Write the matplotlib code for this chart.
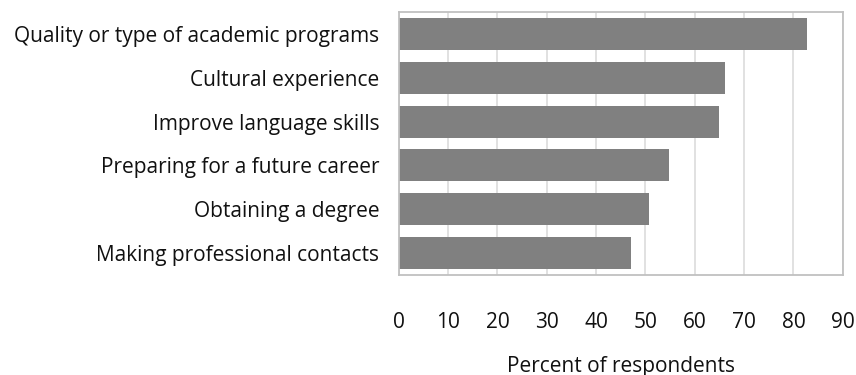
import matplotlib
matplotlib.use("Agg")
import matplotlib.pyplot as plt

plt.rcParams['font.family'] = ['Open Sans', 'DejaVu Sans']

categories = [
    "Quality or type of academic programs",
    "Cultural experience",
    "Improve language skills",
    "Preparing for a future career",
    "Obtaining a degree",
    "Making professional contacts",
]
values = [82.7, 66.1, 65.0, 54.8, 50.7, 47.1]
x_ticks = [0, 10, 20, 30, 40, 50, 60, 70, 80, 90]

fig = plt.figure(figsize=(8.56, 3.75), dpi=100)
ax = fig.add_axes([0.4658, 0.2667, 0.5187, 0.7013])

ypos = list(range(len(categories)))
ax.barh(ypos, values, height=0.73, color="#808080", zorder=2)
ax.set_ylim(len(categories) - 0.5, -0.5)
ax.set_xlim(0, 90)
ax.set_yticks(ypos)
ax.set_yticklabels(categories, fontsize=15, color="#111111")
ax.set_xticks(x_ticks)
ax.set_xticklabels([str(t) for t in x_ticks], fontsize=15, color="#111111")

ax.tick_params(axis="y", length=0, pad=14)
ax.tick_params(axis="x", length=0, pad=27)
ax.xaxis.grid(True, color="#d9d9d9", linewidth=1.1, zorder=0)
ax.set_axisbelow(True)
for s in ax.spines.values():
    s.set_color("#c0c0c0")
    s.set_linewidth(1.3)

ax.set_xlabel("Percent of respondents", fontsize=15, color="#111111", labelpad=16)

fig.savefig("out.png", dpi=100)
